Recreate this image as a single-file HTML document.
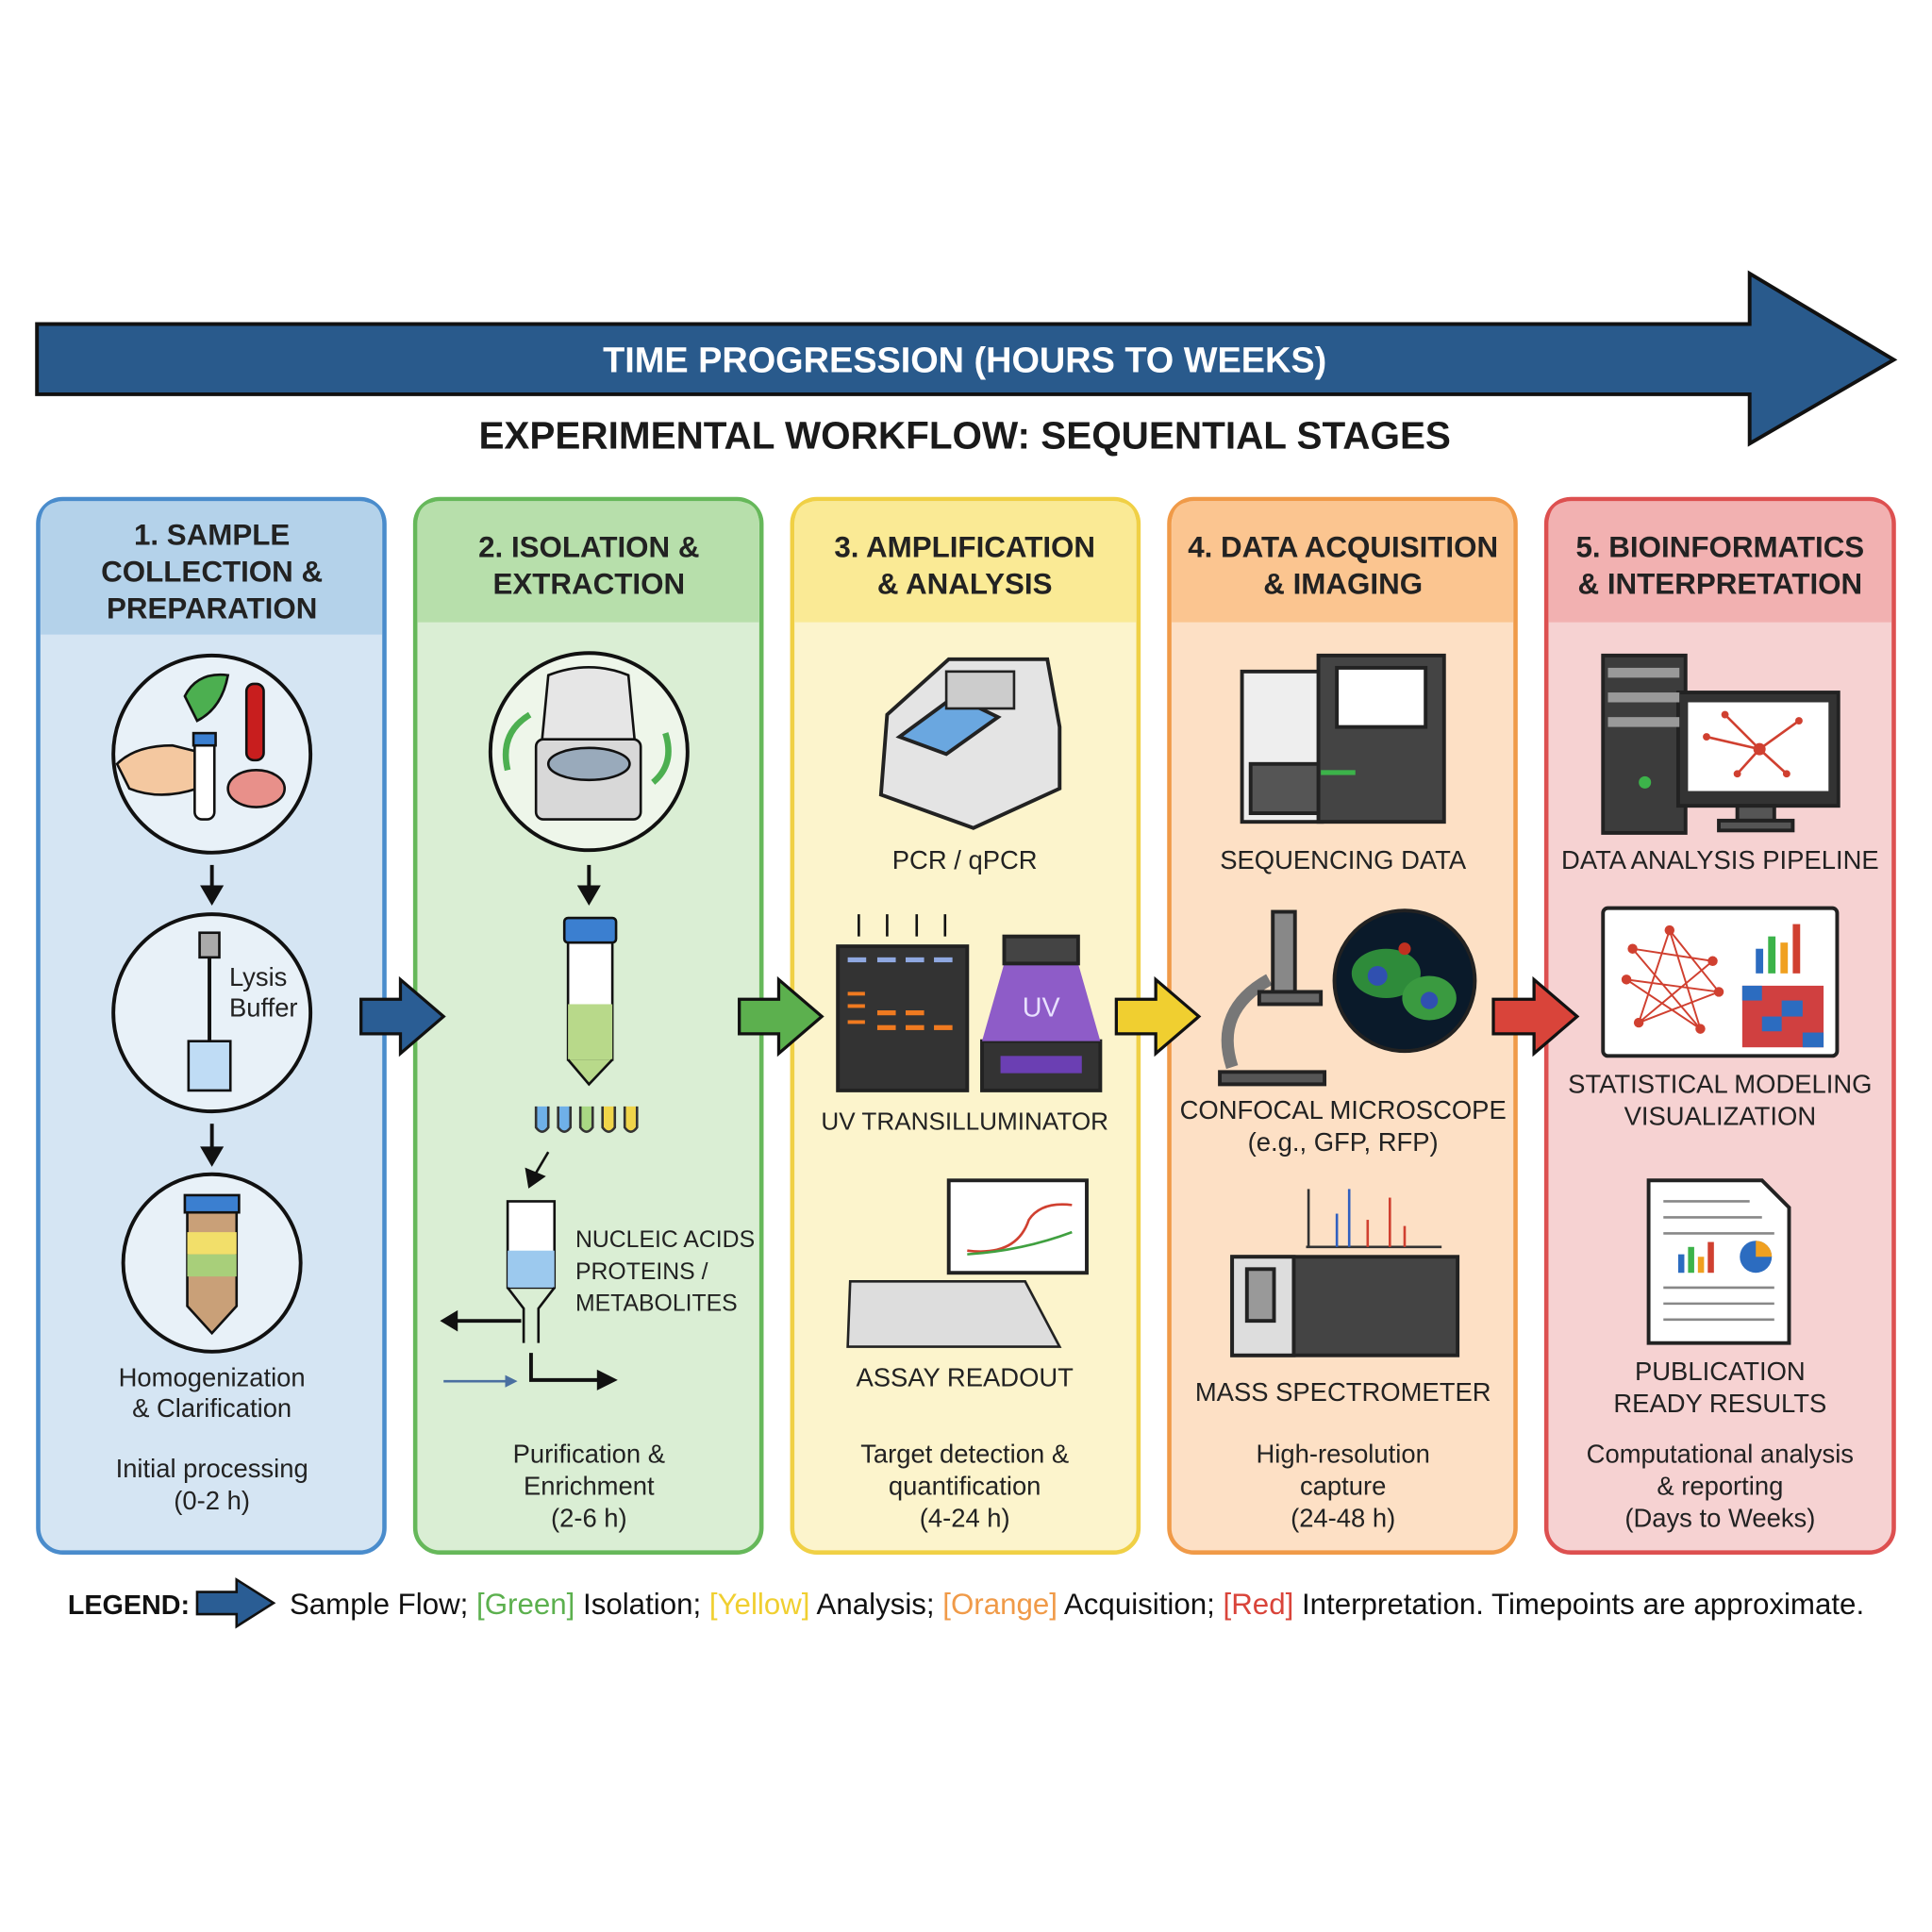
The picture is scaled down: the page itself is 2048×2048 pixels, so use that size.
<!DOCTYPE html>
<html><head><meta charset="utf-8"><style>html,body{margin:0;padding:0;background:#fff}svg{display:block}text{font-family:"Liberation Sans",sans-serif}</style></head><body>
<svg width="2048" height="2048" viewBox="0 0 1568 1568" xmlns="http://www.w3.org/2000/svg">
<rect width="1568" height="1568" fill="#fff"/>
<path d="M30,263 H1420 V222 L1537,292 L1420,360 V320 H30 Z" fill="#295a8c" stroke="#111" stroke-width="3"/>
<text x="783" y="302" font-size="29" font-weight="bold" fill="#fff" text-anchor="middle">TIME PROGRESSION (HOURS TO WEEKS)</text>
<text x="783" y="364" font-size="31" font-weight="bold" fill="#1a1a1a" text-anchor="middle">EXPERIMENTAL WORKFLOW: SEQUENTIAL STAGES</text>

<g stroke-width="3.5">
<rect x="31" y="405" width="281" height="855" rx="20" fill="#d5e5f3" stroke="#4a8ccc"/>
<path d="M33,425 Q33,407 51,407 H292 Q310,407 310,425 V515 H33Z" fill="#b4d2ea"/>
<rect x="337" y="405" width="281" height="855" rx="20" fill="#daeed4" stroke="#66b85a"/>
<path d="M339,425 Q339,407 357,407 H598 Q616,407 616,425 V505 H339Z" fill="#b7dfab"/>
<rect x="643" y="405" width="281" height="855" rx="20" fill="#fcf4cc" stroke="#f0d045"/>
<path d="M645,425 Q645,407 663,407 H904 Q922,407 922,425 V505 H645Z" fill="#faea95"/>
<rect x="949" y="405" width="281" height="855" rx="20" fill="#fde0c5" stroke="#f09a48"/>
<path d="M951,425 Q951,407 969,407 H1210 Q1228,407 1228,425 V505 H951Z" fill="#fbc590"/>
<rect x="1255" y="405" width="282" height="855" rx="20" fill="#f6d2d2" stroke="#dd5050"/>
<path d="M1257,425 Q1257,407 1275,407 H1517 Q1535,407 1535,425 V505 H1257Z" fill="#f2b1b1"/>
</g>
<g font-size="24" font-weight="bold" fill="#222" text-anchor="middle">
<text x="172" y="442">1. SAMPLE</text><text x="172" y="472">COLLECTION &amp;</text><text x="172" y="502">PREPARATION</text>
<text x="478" y="452">2. ISOLATION &amp;</text><text x="478" y="482">EXTRACTION</text>
<text x="783" y="452">3. AMPLIFICATION</text><text x="783" y="482">&amp; ANALYSIS</text>
<text x="1090" y="452">4. DATA ACQUISITION</text><text x="1090" y="482">&amp; IMAGING</text>
<text x="1396" y="452">5. BIOINFORMATICS</text><text x="1396" y="482">&amp; INTERPRETATION</text>
</g>

<g stroke="#111" stroke-width="3">
<circle cx="172" cy="612" r="80" fill="#e8f1f8"/>
<path d="M150,565 Q160,545 185,548 Q180,575 160,585 Z" fill="#4caf50" stroke-width="2"/>
<rect x="200" y="555" width="14" height="62" rx="6" fill="#c81e1e" stroke-width="2"/>
<ellipse cx="208" cy="640" rx="23" ry="15" fill="#e8908a" stroke-width="2"/>
<path d="M95,620 Q110,605 140,605 L160,610 L160,640 Q130,650 105,640 Z" fill="#f4c8a0" stroke-width="2"/>
<rect x="158" y="597" width="16" height="68" rx="6" fill="#fff" stroke-width="2"/>
<rect x="157" y="595" width="18" height="10" fill="#3b7fd0" stroke-width="2"/>
<circle cx="172" cy="822" r="80" fill="#e8f1f8"/>
<rect x="162" y="757" width="16" height="20" fill="#aaa" stroke-width="2"/>
<line x1="170" y1="777" x2="170" y2="855" stroke-width="3"/>
<path d="M153,845 H187 V885 H153 Z" fill="#bfdcf5" stroke-width="2"/>
<circle cx="172" cy="1025" r="72" fill="#e8f1f8"/>
<path d="M152,978 H192 V1060 L172,1082 L152,1060 Z" fill="#c9a078" stroke-width="2"/>
<rect x="152" y="1000" width="40" height="18" fill="#f2df6a" stroke="none"/>
<rect x="152" y="1018" width="40" height="18" fill="#a8cf7a" stroke="none"/>
<rect x="150" y="970" width="44" height="14" fill="#3b7fd0" stroke-width="2"/>
</g>
<text x="186" y="800" font-size="21" fill="#222">Lysis</text><text x="186" y="825" font-size="21" fill="#222">Buffer</text>
<g stroke="#111" stroke-width="3" fill="#111">
<line x1="172" y1="702" x2="172" y2="722"/><path d="M165,720 L179,720 L172,732Z"/>
<line x1="172" y1="912" x2="172" y2="934"/><path d="M165,932 L179,932 L172,944Z"/>
<line x1="478" y1="702" x2="478" y2="722"/><path d="M471,720 L485,720 L478,732Z"/>
</g>
<g font-size="21" fill="#222" text-anchor="middle">
<text x="172" y="1125">Homogenization</text><text x="172" y="1150">&amp; Clarification</text>
<text x="172" y="1199">Initial processing</text><text x="172" y="1225">(0-2 h)</text>
</g>

<g stroke="#111" stroke-width="3">
<circle cx="478" cy="610" r="80" fill="#eef6ea"/>
<rect x="435" y="600" width="85" height="65" rx="6" fill="#d8d8d8" stroke-width="2"/>
<path d="M440,600 L445,548 Q478,535 510,548 L515,600Z" fill="#e6e6e6" stroke-width="2"/>
<ellipse cx="478" cy="620" rx="33" ry="13" fill="#9ab" stroke-width="2"/>
<path d="M412,625 Q405,595 430,580" fill="none" stroke="#4caf50" stroke-width="5"/>
<path d="M540,595 Q548,620 530,635" fill="none" stroke="#4caf50" stroke-width="5"/>
<rect x="461" y="760" width="36" height="100" fill="#fff" stroke-width="2"/>
<rect x="461" y="815" width="36" height="45" fill="#b8d98a" stroke="none"/>
<rect x="458" y="745" width="42" height="20" rx="3" fill="#3b7fd0" stroke-width="2"/>
<path d="M461,860 L478,880 L497,860" fill="#b8d98a" stroke-width="2"/>
<rect x="412" y="975" width="38" height="70" fill="#fff" stroke-width="2"/>
<rect x="412" y="1015" width="38" height="30" fill="#9cc9ee" stroke="none"/>
<path d="M412,1045 L425,1062 V1090 M450,1045 L437,1062 V1090" fill="none" stroke-width="2"/>
<path d="M423,1072 H365" fill="none"/><path d="M370,1066 L360,1072 L370,1078Z" fill="#111"/>
<path d="M431,1098 V1120 H490" fill="none"/><path d="M486,1114 L498,1120 L486,1126Z" fill="#111"/>
<path d="M360,1121 H415" stroke="#4a6fa0" stroke-width="2"/><path d="M410,1116 L420,1121 L410,1126Z" fill="#4a6fa0" stroke="none"/>
<path d="M445,935 L432,957" fill="none" stroke-width="2"/><path d="M428,950 L430,962 L440,955Z" fill="#111"/>
</g>
<g stroke="#333" stroke-width="2">
<path d="M435,898 V915 Q440,922 445,915 V898" fill="#6fb0e8"/>
<path d="M453,898 V915 Q458,922 463,915 V898" fill="#6fb0e8"/>
<path d="M471,898 V915 Q476,922 481,915 V898" fill="#a9d884"/>
<path d="M489,898 V915 Q494,922 499,915 V898" fill="#f0d54a"/>
<path d="M507,898 V915 Q512,922 517,915 V898" fill="#f0d54a"/>
</g>
<g font-size="19" fill="#222"><text x="467" y="1012">NUCLEIC ACIDS</text><text x="467" y="1038">PROTEINS /</text><text x="467" y="1064">METABOLITES</text></g>
<g font-size="21" fill="#222" text-anchor="middle"><text x="478" y="1187">Purification &amp;</text><text x="478" y="1213">Enrichment</text><text x="478" y="1239">(2-6 h)</text></g>

<g stroke="#222" stroke-width="3">
<path d="M720,580 L770,535 H850 L860,590 V640 L790,672 L715,645 Z" fill="#e4e4e4"/>
<path d="M730,598 L775,565 L810,582 L768,612 Z" fill="#6aa7e0"/>
<rect x="768" y="545" width="55" height="30" fill="#ccc" stroke-width="2"/>
<rect x="680" y="768" width="105" height="117" fill="#333"/>
<rect x="797" y="845" width="96" height="40" fill="#333"/>
<path d="M815,782 H875 L893,845 H797 Z" fill="#8e5cc8" stroke="none"/>
<rect x="815" y="760" width="60" height="22" fill="#444"/>
<rect x="812" y="857" width="66" height="14" fill="#6b3fb3" stroke="none"/>
<rect x="770" y="958" width="112" height="75" fill="#fff"/>
<path d="M690,1040 H832 L860,1093 H688 Z" fill="#ddd" stroke-width="2"/>
</g>
<g fill="#8fa8e0"><rect x="688" y="777" width="15" height="4"/><rect x="712" y="777" width="15" height="4"/><rect x="735" y="777" width="15" height="4"/><rect x="758" y="777" width="15" height="4"/></g>
<g fill="#f07a20"><rect x="688" y="805" width="14" height="3"/><rect x="688" y="815" width="14" height="3"/><rect x="688" y="828" width="14" height="3"/><rect x="712" y="820" width="15" height="4"/><rect x="712" y="832" width="15" height="4"/><rect x="735" y="820" width="15" height="4"/><rect x="735" y="832" width="15" height="4"/><rect x="758" y="832" width="15" height="4"/></g>
<g stroke="#111" stroke-width="2" fill="#111">
<line x1="697" y1="742" x2="697" y2="760"/><line x1="720" y1="742" x2="720" y2="760"/><line x1="744" y1="742" x2="744" y2="760"/><line x1="767" y1="742" x2="767" y2="760"/>
</g>
<text x="845" y="825" font-size="22" fill="#e8e0ff" text-anchor="middle">UV</text>
<path d="M785,1015 Q825,1020 835,990 Q845,975 870,978" fill="none" stroke="#d04030" stroke-width="2"/>
<path d="M785,1018 Q830,1015 870,1000" fill="none" stroke="#40a040" stroke-width="2"/>
<g font-size="21" fill="#222" text-anchor="middle"><text x="783" y="705">PCR / qPCR</text><text x="783" y="917" font-size="20">UV TRANSILLUMINATOR</text><text x="783" y="1125">ASSAY READOUT</text>
<text x="783" y="1187">Target detection &amp;</text><text x="783" y="1213">quantification</text><text x="783" y="1239">(4-24 h)</text></g>

<g stroke="#222" stroke-width="3">
<rect x="1008" y="545" width="65" height="122" fill="#eee"/>
<rect x="1070" y="532" width="102" height="135" fill="#444"/>
<rect x="1085" y="542" width="72" height="48" fill="#fff"/>
<rect x="1015" y="620" width="55" height="40" fill="#555"/>
<rect x="1072" y="625" width="28" height="4" fill="#3cb34a" stroke="none"/>
<circle cx="1140" cy="796" r="57" fill="#0a1a2a"/>
<path d="M990,870 H1075 V880 H990Z" fill="#555"/>
<path d="M1000,866 Q985,820 1030,795" fill="none" stroke="#777" stroke-width="10"/>
<rect x="1033" y="740" width="18" height="65" fill="#888"/>
<rect x="1022" y="805" width="50" height="10" fill="#666"/>
<rect x="1000" y="1020" width="183" height="80" fill="#444"/>
<rect x="1000" y="1020" width="50" height="80" fill="#ddd"/>
<rect x="1012" y="1030" width="22" height="42" fill="#999"/>
</g>
<ellipse cx="1125" cy="790" rx="28" ry="20" fill="#2e8b3a"/><ellipse cx="1160" cy="810" rx="22" ry="18" fill="#3a9a40"/><circle cx="1118" cy="792" r="8" fill="#3050b0"/><circle cx="1160" cy="812" r="7" fill="#3050b0"/><circle cx="1140" cy="770" r="5" fill="#c03020"/>
<g stroke-width="2"><line x1="1060" y1="1012" x2="1170" y2="1012" stroke="#333"/>
<line x1="1062" y1="1012" x2="1062" y2="965" stroke="#333"/><line x1="1085" y1="1012" x2="1085" y2="985" stroke="#3060c0"/><line x1="1095" y1="1012" x2="1095" y2="965" stroke="#3060c0"/><line x1="1110" y1="1012" x2="1110" y2="990" stroke="#d04030"/><line x1="1128" y1="1012" x2="1128" y2="972" stroke="#d04030"/><line x1="1140" y1="1012" x2="1140" y2="995" stroke="#d04030"/></g>
<g font-size="21" fill="#222" text-anchor="middle"><text x="1090" y="705">SEQUENCING DATA</text><text x="1090" y="908">CONFOCAL MICROSCOPE</text><text x="1090" y="934">(e.g., GFP, RFP)</text><text x="1090" y="1137">MASS SPECTROMETER</text>
<text x="1090" y="1187">High-resolution</text><text x="1090" y="1213">capture</text><text x="1090" y="1239">(24-48 h)</text></g>

<g stroke="#222" stroke-width="3">
<rect x="1301" y="532" width="67" height="144" fill="#3c3c3c"/>
<rect x="1362" y="562" width="130" height="92" fill="#333"/>
<rect x="1370" y="570" width="114" height="72" fill="#fff" stroke="none"/>
<rect x="1410" y="654" width="30" height="12" fill="#555"/><rect x="1395" y="666" width="60" height="8" fill="#555"/>
<rect x="1301" y="737" width="190" height="120" rx="4" fill="#fff"/>
<rect x="1414" y="800" width="66" height="50" fill="#d04040" stroke="none"/>
<path d="M1338,958 H1430 L1452,980 V1090 H1338Z" fill="#fff"/>
</g>
<g fill="#2c6cc0"><rect x="1414" y="800" width="16" height="12"/><rect x="1446" y="812" width="17" height="13"/><rect x="1430" y="825" width="16" height="12"/><rect x="1463" y="838" width="17" height="12"/></g>
<g stroke="#d04030" stroke-width="2" fill="none"><path d="M1385,598 L1428,608 L1460,585 M1428,608 L1410,628 M1428,608 L1450,628 M1400,580 L1428,608"/></g>
<g fill="#d04030"><circle cx="1428" cy="608" r="5"/><circle cx="1385" cy="598" r="3"/><circle cx="1460" cy="585" r="3"/><circle cx="1410" cy="628" r="3"/><circle cx="1450" cy="628" r="3"/><circle cx="1400" cy="580" r="3"/></g>
<g stroke="#d04030" stroke-width="1.5" fill="none"><path d="M1320,795 L1395,805 L1355,755 L1330,830 L1390,780 L1325,770 L1380,835 L1355,755 M1320,795 L1380,835 M1330,830 L1395,805"/></g>
<g fill="#d04030"><circle cx="1320" cy="795" r="4"/><circle cx="1395" cy="805" r="4"/><circle cx="1355" cy="755" r="4"/><circle cx="1330" cy="830" r="4"/><circle cx="1390" cy="780" r="4"/><circle cx="1325" cy="770" r="4"/><circle cx="1380" cy="835" r="4"/></g>
<g><rect x="1425" y="770" width="6" height="20" fill="#2c6cc0"/><rect x="1435" y="760" width="6" height="30" fill="#3cb34a"/><rect x="1445" y="765" width="6" height="25" fill="#f0a020"/><rect x="1455" y="750" width="6" height="40" fill="#d04030"/></g>
<g fill="#999"><rect x="1305" y="542" width="58" height="8"/><rect x="1305" y="562" width="58" height="8"/><rect x="1305" y="582" width="58" height="8"/></g>
<circle cx="1335" cy="635" r="5" fill="#3cb34a"/>
<g stroke="#888" stroke-width="2"><line x1="1350" y1="975" x2="1420" y2="975"/><line x1="1350" y1="988" x2="1430" y2="988"/><line x1="1350" y1="1001" x2="1440" y2="1001"/><line x1="1350" y1="1045" x2="1440" y2="1045"/><line x1="1350" y1="1058" x2="1440" y2="1058"/><line x1="1350" y1="1071" x2="1440" y2="1071"/></g>
<g><rect x="1362" y="1018" width="5" height="15" fill="#2c6cc0"/><rect x="1370" y="1012" width="5" height="21" fill="#3cb34a"/><rect x="1378" y="1020" width="5" height="13" fill="#f0a020"/><rect x="1386" y="1008" width="5" height="25" fill="#d04030"/><circle cx="1425" cy="1020" r="13" fill="#2c6cc0"/><path d="M1425,1020 V1007 A13,13 0 0 1 1438,1020Z" fill="#f0a020"/></g>
<g font-size="21" fill="#222" text-anchor="middle"><text x="1396" y="705">DATA ANALYSIS PIPELINE</text><text x="1396" y="887">STATISTICAL MODELING</text><text x="1396" y="913">VISUALIZATION</text><text x="1396" y="1120">PUBLICATION</text><text x="1396" y="1146">READY RESULTS</text>
<text x="1396" y="1187">Computational analysis</text><text x="1396" y="1213">&amp; reporting</text><text x="1396" y="1239">(Days to Weeks)</text></g>

<g stroke="#111" stroke-width="2.5">
<path d="M293,811 H325 V795 L360,825 L325,855 V839 H293Z" fill="#2a5d94"/>
<path d="M600,811 H632 V795 L667,825 L632,855 V839 H600Z" fill="#5cb04e"/>
<path d="M906,811 H938 V795 L973,825 L938,855 V839 H906Z" fill="#f0cf30"/>
<path d="M1212,811 H1245 V795 L1280,825 L1245,855 V839 H1212Z" fill="#d9443a"/>
</g>

<text x="55" y="1310" font-size="22" font-weight="bold" fill="#111">LEGEND:</text>
<path d="M160,1292 H192 V1282 L222,1301 L192,1320 V1310 H160Z" fill="#2a5d94" stroke="#111" stroke-width="2"/>
<text x="235" y="1310" font-size="24" fill="#111" textLength="1278" lengthAdjust="spacingAndGlyphs">Sample Flow; <tspan fill="#5cb04e">[Green]</tspan> Isolation; <tspan fill="#f0cf30">[Yellow]</tspan> Analysis; <tspan fill="#f09a48">[Orange]</tspan> Acquisition; <tspan fill="#d9443a">[Red]</tspan> Interpretation. Timepoints are approximate.</text>
</svg>
</body></html>
